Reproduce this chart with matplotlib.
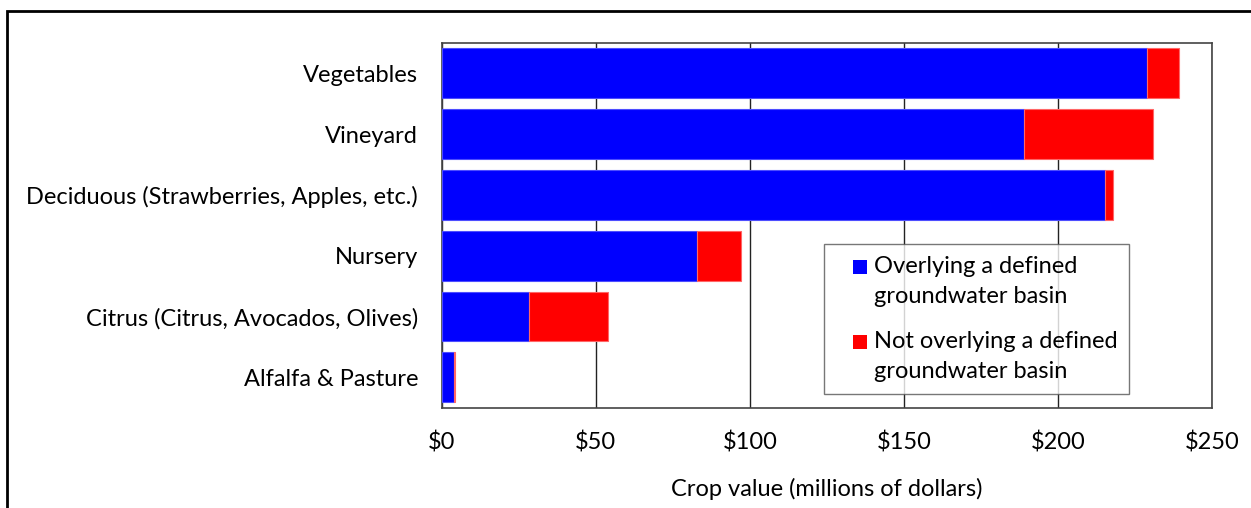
import matplotlib
matplotlib.use("Agg")
import matplotlib.pyplot as plt
from matplotlib.patches import Rectangle
from matplotlib.container import BarContainer
from matplotlib.legend_handler import HandlerPatch

# crop values, millions of dollars
crops = ["Vegetables", "Vineyard", "Deciduous (Strawberries, Apples, etc.)",
         "Nursery", "Citrus (Citrus, Avocados, Olives)", "Alfalfa & Pasture"]
overlying = [228.8, 188.9, 215.0, 82.7, 28.3, 3.9]
not_overlying = [10.2, 41.8, 2.8, 14.3, 25.7, 0.3]
ticks = [0, 50, 100, 150, 200, 250]
tick_labels = ["$0", "$50", "$100", "$150", "$200", "$250"]

plt.rcParams['font.family'] = ['Lato', 'DejaVu Sans']


def square_up(legend, orig_handle, xdescent, ydescent, width, height, fontsize):
    # small square at the right end of the handle box, level with the first line
    side = 0.59 * fontsize
    return Rectangle((-xdescent + width - side, -ydescent + 0.66 * fontsize),
                     side, side)


def first_color(legend_handle, orig_handle):
    legend_handle.update_from(orig_handle.patches[0])
    legend_handle.set_edgecolor("none")


fig = plt.figure(figsize=(12.51, 5.08), dpi=100)
ax = fig.add_axes([0.3531, 0.1974, 0.6161, 0.718])

ypos = range(len(crops))
ax.barh(ypos, overlying, height=0.82, color="#0000ff",
        edgecolor=(0.3, 0.3, 1.0), linewidth=0.8,
        label="Overlying a defined\ngroundwater basin", zorder=3)
ax.barh(ypos, not_overlying, left=overlying, height=0.82, color="#ff0000",
        edgecolor=(1.0, 0.4, 0.4), linewidth=0.8,
        label="Not overlying a defined\ngroundwater basin", zorder=3)

ax.set_xlim(0, 250)
ax.set_ylim(len(crops) - 0.5, -0.5)
ax.set_xticks(ticks)
ax.set_xticklabels(tick_labels)
ax.set_yticks(list(ypos))
ax.set_yticklabels(crops)
ax.tick_params(axis="both", length=0, labelsize=17, colors="black")
ax.tick_params(axis="x", pad=17)
ax.tick_params(axis="y", pad=17)
ax.xaxis.grid(True, color="#222222", linewidth=1.0, zorder=0)
for s in ax.spines.values():
    s.set_color("#444444")
    s.set_linewidth(1.2)
ax.set_xlabel("Crop value (millions of dollars)", fontsize=17, labelpad=18)

leg = ax.legend(loc="upper left", bbox_to_anchor=(824 / 1251, 1 - 244 / 508),
                bbox_transform=fig.transFigure, fontsize=17, frameon=True,
                fancybox=False, edgecolor="#555555", handlelength=1.31,
                handleheight=0.7, handletextpad=0.3, borderpad=0.5,
                labelspacing=1.0, borderaxespad=0,
                handler_map={BarContainer: HandlerPatch(patch_func=square_up,
                                                        update_func=first_color)})
for t in leg.get_texts():
    t.set_linespacing(1.55)
leg.get_frame().set_linewidth(1.0)
leg.set_zorder(5)

# outer frame of the figure
fig.patches.append(Rectangle((7 / 1251, -0.1), 1.2, 1.1 - 11 / 508,
                             transform=fig.transFigure, fill=False,
                             edgecolor="black", linewidth=2.0))

fig.savefig("out.png", dpi=100)
